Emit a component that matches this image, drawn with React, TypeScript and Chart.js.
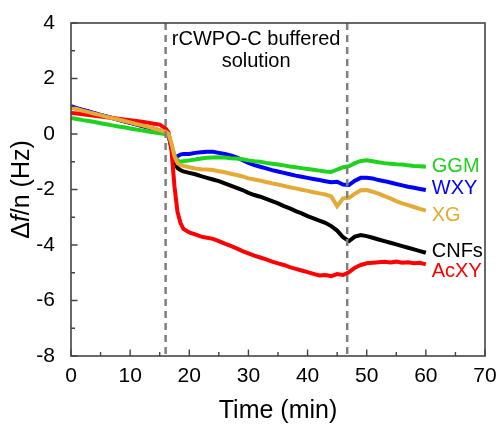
import React, { useEffect, useRef } from "react";
import { Chart, registerables } from "chart.js";

Chart.register(...registerables);

const times = [
  0, 1, 2, 3, 4, 5, 6, 7, 8, 9, 10, 11, 12, 13, 14, 15, 16,
  16.5, 17, 17.5, 18, 18.5, 19,
  20, 21, 22, 23, 24, 25, 26, 27, 28, 29, 30, 31, 32, 33, 34, 35, 36, 37, 38, 39,
  40, 41, 42, 43, 44, 45, 46, 47, 48, 49, 50, 51, 52, 53, 54, 55, 56, 57, 58, 59, 60,
];

const xgValues = [
  0.95, 0.9, 0.84, 0.79, 0.73, 0.68, 0.62, 0.57, 0.52, 0.47, 0.42, 0.36, 0.31, 0.26, 0.2, 0.14, 0.08,
  0.0, -0.35, -0.8, -1.05, -1.12, -1.15,
  -1.2, -1.24, -1.27, -1.28, -1.3, -1.34, -1.38, -1.43, -1.48, -1.53,
  -1.6, -1.64, -1.68, -1.73, -1.78, -1.82, -1.87, -1.92, -1.96, -2.01,
  -2.05, -2.1, -2.14, -2.18, -2.25, -2.6, -2.32, -2.3, -2.15, -2.03,
  -2.02, -2.08, -2.15, -2.24, -2.32, -2.42, -2.5, -2.56, -2.63, -2.7, -2.76,
];

const wxyValues = [
  1.0, 0.93, 0.87, 0.81, 0.75, 0.69, 0.63, 0.58, 0.52, 0.46, 0.41, 0.35, 0.3, 0.24, 0.19, 0.13, 0.08,
  -0.05, -0.5, -0.88, -0.8, -0.74, -0.72,
  -0.72, -0.68, -0.66, -0.64, -0.64, -0.68, -0.72, -0.77, -0.84, -0.94,
  -1.04, -1.12, -1.18, -1.24, -1.3, -1.35, -1.4, -1.45, -1.5, -1.54,
  -1.58, -1.62, -1.66, -1.7, -1.74, -1.72, -1.82, -1.84, -1.68, -1.58,
  -1.58, -1.6, -1.66, -1.7, -1.75, -1.8, -1.85, -1.9, -1.94, -1.98, -2.02,
];

const ggmValues = [
  0.58, 0.54, 0.5, 0.47, 0.43, 0.39, 0.35, 0.31, 0.27, 0.24, 0.2, 0.16, 0.13, 0.09, 0.06, 0.03, 0.0,
  -0.08, -0.4, -0.8, -0.95, -1.0, -0.98,
  -0.95, -0.92, -0.88, -0.86, -0.85, -0.84, -0.85, -0.87, -0.88, -0.91,
  -0.95, -0.98, -1.0, -1.04, -1.07, -1.1, -1.13, -1.17, -1.2, -1.23,
  -1.26, -1.29, -1.32, -1.35, -1.37, -1.28, -1.2, -1.16, -1.05, -0.97,
  -0.95, -0.98, -1.02, -1.05, -1.07, -1.09, -1.1, -1.13, -1.15, -1.16, -1.18,
];

const cnfValues = [
  0.98, 0.92, 0.86, 0.8, 0.74, 0.68, 0.63, 0.57, 0.51, 0.46, 0.4, 0.35, 0.29, 0.24, 0.18, 0.12, 0.06,
  -0.05, -0.5, -1.0, -1.22, -1.3, -1.35,
  -1.4, -1.45, -1.52, -1.58, -1.64, -1.7, -1.78, -1.86, -1.94, -2.02,
  -2.12, -2.2, -2.26, -2.34, -2.42, -2.5, -2.6, -2.68, -2.78, -2.86,
  -2.96, -3.04, -3.12, -3.2, -3.32, -3.48, -3.72, -3.86, -3.7, -3.64,
  -3.68, -3.74, -3.8, -3.86, -3.92, -3.98, -4.04, -4.1, -4.16, -4.22, -4.28,
];

const acxyValues = [
  0.76, 0.74, 0.71, 0.68, 0.66, 0.63, 0.6, 0.58, 0.55, 0.52, 0.5, 0.47, 0.44, 0.41, 0.37, 0.34, 0.2,
  0.05, -0.6, -1.9, -2.8, -3.2, -3.42,
  -3.55, -3.62, -3.7, -3.74, -3.78, -3.86, -3.95, -4.03, -4.12, -4.22,
  -4.3, -4.38, -4.45, -4.52, -4.6, -4.66, -4.72, -4.8, -4.86, -4.92,
  -4.98, -5.04, -5.1, -5.08, -5.12, -5.05, -5.08, -4.98, -4.82, -4.72,
  -4.66, -4.64, -4.62, -4.6, -4.63, -4.6, -4.64, -4.62, -4.66, -4.64, -4.7,
];

const seriesNames = ["XG", "AcXY", "GGM", "WXY", "CNFs"];
const seriesColors = ["#e5aa35", "#ff0000", "#1ed21e", "#0000ff", "#000000"];
const seriesValues = [xgValues, acxyValues, ggmValues, wxyValues, cnfValues];

// end labels: [text, x (min), y (Hz), color]
const endLabels: [string, number, number, string][] = [
  ["GGM", 61.0, -1.18, "#1ed21e"],
  ["WXY", 61.0, -1.95, "#0000ff"],
  ["XG", 61.0, -2.92, "#e5aa35"],
  ["CNFs", 61.0, -4.24, "#000000"],
  ["AcXY", 61.0, -4.96, "#ff0000"],
];

const injectionTimes = [16.0, 46.7];
const annotationLines = ["rCWPO-C buffered", "solution"];
const annotationX = 31.3;
const annotationY = [3.4, 2.6];

const xMajorTicks = [0, 10, 20, 30, 40, 50, 60, 70];
const xMinorTicks = [5, 15, 25, 35, 45, 55, 65];
const yMajorTicks = [-8, -6, -4, -2, 0, 2, 4];
const yMinorTicks = [-7, -5, -3, -1, 1, 3];

const FONT = "'Liberation Sans', Arial, sans-serif";

const decorPlugin = {
  id: "decor",
  afterDatasetsDraw(chart: any) {
    const { ctx, chartArea } = chart;
    const xs = chart.scales.x;
    const ys = chart.scales.y;
    const { left, right, top, bottom } = chartArea;
    ctx.save();

    // dashed injection lines
    ctx.strokeStyle = "#7f7f7f";
    ctx.lineWidth = 2.5;
    ctx.setLineDash([7, 5]);
    for (const t of injectionTimes) {
      const px = xs.getPixelForValue(t);
      ctx.beginPath();
      ctx.moveTo(px, top);
      ctx.lineTo(px, bottom);
      ctx.stroke();
    }
    ctx.setLineDash([]);

    // frame
    ctx.strokeStyle = "#444444";
    ctx.lineWidth = 1.6;
    ctx.strokeRect(left, top, right - left, bottom - top);

    // inward ticks
    ctx.lineWidth = 1.4;
    ctx.beginPath();
    for (const v of xMajorTicks) {
      const px = xs.getPixelForValue(v);
      ctx.moveTo(px, bottom);
      ctx.lineTo(px, bottom - 6.5);
    }
    for (const v of xMinorTicks) {
      const px = xs.getPixelForValue(v);
      ctx.moveTo(px, bottom);
      ctx.lineTo(px, bottom - 4);
    }
    for (const v of yMajorTicks) {
      const py = ys.getPixelForValue(v);
      ctx.moveTo(left, py);
      ctx.lineTo(left + 6.5, py);
    }
    for (const v of yMinorTicks) {
      const py = ys.getPixelForValue(v);
      ctx.moveTo(left, py);
      ctx.lineTo(left + 4, py);
    }
    ctx.stroke();

    // annotation text
    ctx.fillStyle = "#000";
    ctx.font = `20px ${FONT}`;
    ctx.textAlign = "center";
    ctx.textBaseline = "middle";
    annotationLines.forEach((line, i) => {
      ctx.fillText(line, xs.getPixelForValue(annotationX), ys.getPixelForValue(annotationY[i]));
    });

    // end labels
    ctx.textAlign = "left";
    for (const [txt, lx, ly, col] of endLabels) {
      ctx.fillStyle = col;
      ctx.fillText(txt, xs.getPixelForValue(lx), ys.getPixelForValue(ly));
    }

    // x title
    ctx.fillStyle = "#000";
    ctx.font = `25px ${FONT}`;
    ctx.textAlign = "center";
    ctx.fillText("Time (min)", (left + right) / 2, 411);

    // y title with italic f
    ctx.translate(22, (top + bottom) / 2);
    ctx.rotate(-Math.PI / 2);
    const parts: [string, string][] = [
      ["Δ", `25px ${FONT}`],
      ["f", `italic 25px ${FONT}`],
      ["/n (Hz)", `25px ${FONT}`],
    ];
    let total = 0;
    for (const [s, f] of parts) {
      ctx.font = f;
      total += ctx.measureText(s).width;
    }
    let cx = -total / 2;
    ctx.textAlign = "left";
    for (const [s, f] of parts) {
      ctx.font = f;
      ctx.fillText(s, cx, 0);
      cx += ctx.measureText(s).width;
    }
    ctx.restore();
  },
};

export default function App() {
  const canvasRef = useRef<HTMLCanvasElement | null>(null);

  useEffect(() => {
    document.body.style.margin = "0";
    const canvas = canvasRef.current;
    if (!canvas) return;
    const datasets = seriesNames.map((name, i) => ({
      label: name,
      data: times.map((t, j) => ({ x: t, y: seriesValues[i][j] })),
      borderColor: seriesColors[i],
      backgroundColor: seriesColors[i],
      borderWidth: 4,
      pointRadius: 0,
      tension: 0,
      fill: false,
    }));
    const chart = new Chart(canvas, {
      type: "line",
      data: { datasets },
      options: {
        animation: false,
        responsive: false,
        maintainAspectRatio: false,
        layout: { padding: { left: 0, top: 23, right: 14, bottom: 0 } },
        plugins: {
          legend: { display: false },
          tooltip: { enabled: false },
        },
        scales: {
          x: {
            type: "linear",
            min: 0,
            max: 70,
            grid: { display: false },
            border: { display: false },
            ticks: {
              stepSize: 10,
              color: "#000",
              padding: 0,
              maxRotation: 0,
              font: { size: 21, family: FONT },
            },
            afterFit: (s: any) => {
              s.height = 69;
            },
          },
          y: {
            type: "linear",
            min: -8,
            max: 4,
            grid: { display: false },
            border: { display: false },
            ticks: {
              stepSize: 2,
              color: "#000",
              padding: 8,
              font: { size: 21, family: FONT },
            },
            afterFit: (s: any) => {
              s.width = 71;
            },
          },
        },
      },
      plugins: [decorPlugin],
    });
    return () => chart.destroy();
  }, []);

  return (
    <div style={{ width: 499, height: 425 }}>
      <canvas ref={canvasRef} width={499} height={425} style={{ display: "block" }} />
    </div>
  );
}
